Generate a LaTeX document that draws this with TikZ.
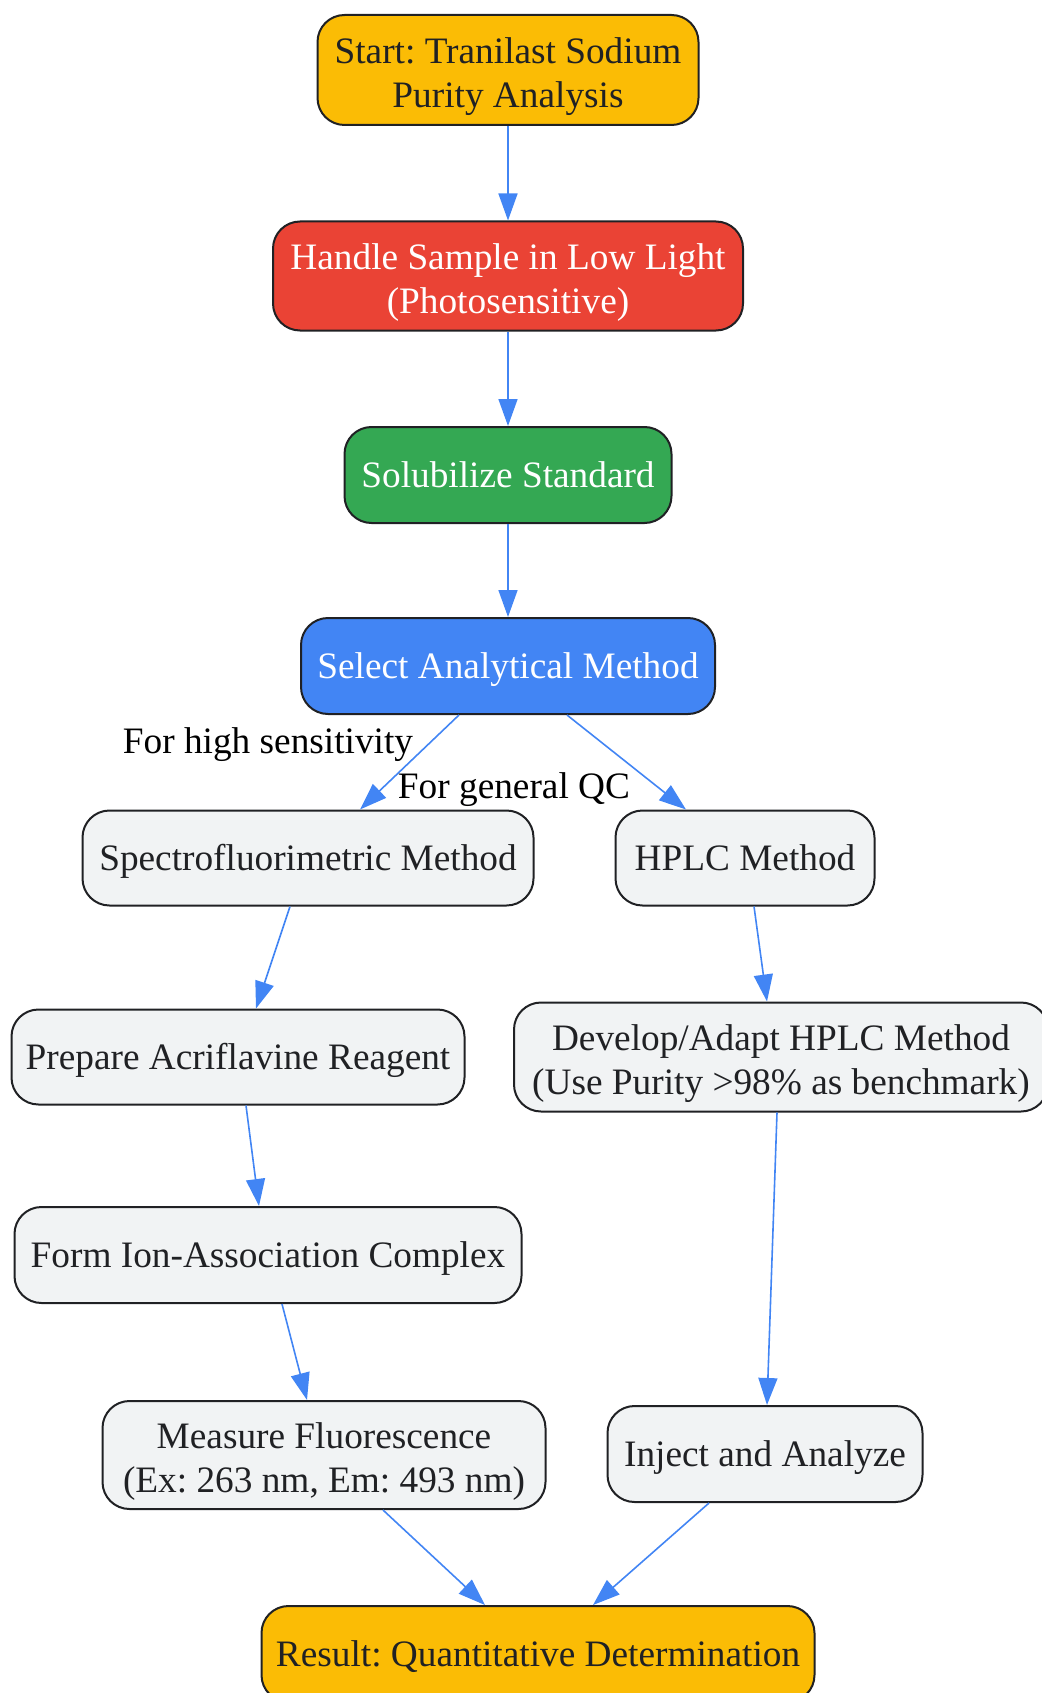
\documentclass[tikz,border=0pt]{standalone}
\usepackage{fontspec}
\setmainfont{Liberation Serif}
\usetikzlibrary{arrows.meta}

\definecolor{gyellow}{HTML}{FBBC05}
\definecolor{gred}{HTML}{EA4335}
\definecolor{ggreen}{HTML}{34A853}
\definecolor{gblue}{HTML}{4285F4}
\definecolor{glight}{HTML}{F1F3F4}
\definecolor{darkline}{HTML}{202124}

\newcommand{\boxstrut}{\rule[-0.216em]{0pt}{1.107em}}
\newcommand{\topline}{\rule{0pt}{38.5pt}}

\tikzset{
  box/.style={draw=darkline, line width=2pt, rounded corners=27pt, align=center,
    inner sep=0pt, text=darkline, font=\fontsize{37.3}{44}\selectfont\frenchspacing,
    execute at begin node=\boxstrut, execute at end node=\boxstrut},
  plainbox/.style={box, fill=glight},
  flow/.style={draw=gblue, line width=1.6pt, -{Triangle[length=27pt,width=19pt]}},
  edgelabel/.style={font=\fontsize{37.3}{44}\selectfont, text=black, inner sep=0pt,
    execute at begin node=\boxstrut}
}

\begin{document}
\begin{tikzpicture}[x=1pt, y=-1pt]
		\useasboundingbox (0,0) rectangle (1041,1693);
		
		% Top of the flow
		\node[box, fill=gyellow, minimum width=381pt, minimum height=110pt] (Start) at (508,70) {\topline Start: Tranilast Sodium\\Purity Analysis};
		\node[box, fill=gred, text=white, minimum width=470pt, minimum height=109pt] (Handle) at (508,276) {\topline Handle Sample in Low Light\\(Photosensitive)};
		\node[box, fill=ggreen, text=white, minimum width=327pt, minimum height=96pt] (Solubilize) at (508,475) {Solubilize Standard};
		\node[box, fill=gblue, text=white, minimum width=414pt, minimum height=96pt] (Select) at (508,666) {Select Analytical Method};
		
		\draw[flow] (Start) -- (Handle);
		\draw[flow] (Handle) -- (Solubilize);
		\draw[flow] (Solubilize) -- (Select);
		
		% Spectrofluorimetric branch
		\node[plainbox, minimum width=451pt, minimum height=95pt] (Spectro) at (308,858) {Spectrofluorimetric Method};
		\node[plainbox, minimum width=453pt, minimum height=95pt] (Prepare) at (238,1057) {Prepare Acriflavine Reagent};
		\node[plainbox, minimum width=507pt, minimum height=96pt] (Form) at (268,1255) {Form Ion-Association Complex};
		\node[plainbox, minimum width=443pt, minimum height=108pt] (Measure) at (324,1455) {\topline Measure Fluorescence\\(Ex: 263 nm, Em: 493 nm)};
		
		\draw[flow] ([xshift=-49pt]Select.south) -- ([xshift=52pt]Spectro.north);
		\node[edgelabel] (LabelHigh) at (268,741) {For high sensitivity};
		\draw[flow] ([xshift=-18pt]Spectro.south) -- ([xshift=18pt]Prepare.north);
		\draw[flow] ([xshift=8pt]Prepare.south) -- ([xshift=-9pt]Form.north);
		\draw[flow] ([xshift=14pt]Form.south) -- ([xshift=-17pt]Measure.north);
		
		% HPLC branch
		\node[plainbox, minimum width=259pt, minimum height=95pt] (HPLC) at (745,858) {HPLC Method};
		\node[plainbox, minimum width=534pt, minimum height=109pt] (Develop) at (781,1057) {\topline Develop/Adapt HPLC Method\\(Use Purity >98\% as benchmark)};
		\node[plainbox, minimum width=315pt, minimum height=96pt] (Inject) at (765,1454) {Inject and Analyze};
		
		\draw[flow] ([xshift=59pt]Select.south) -- ([xshift=-59pt]HPLC.north);
		\node[edgelabel] (LabelQC) at (514,786) {For general QC};
		\draw[flow] ([xshift=9pt]HPLC.south) -- ([xshift=-14pt]Develop.north);
		\draw[flow] ([xshift=-4pt]Develop.south) -- ([xshift=2pt]Inject.north);
		
		% Result
		\node[box, fill=gyellow, minimum width=553pt, minimum height=96pt] (Result) at (538,1654) {Result: Quantitative Determination};
		
		\draw[flow] ([xshift=59pt]Measure.south) -- ([xshift=-53pt]Result.north);
		\draw[flow] ([xshift=-56pt]Inject.south) -- ([xshift=55pt]Result.north);
	\end{tikzpicture}
\end{document}
